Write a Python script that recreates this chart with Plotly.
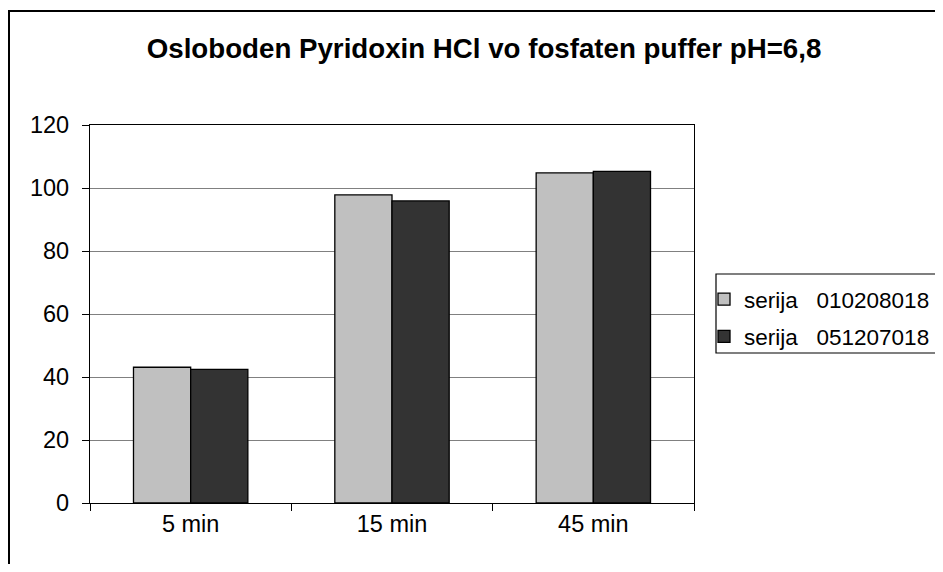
import plotly.graph_objects as go

categories = ["5 min", "15 min", "45 min"]
serija_1 = [43.1, 97.8, 104.8]
serija_2 = [42.4, 95.9, 105.3]
series_names = ["serija\u00a0\u00a0\u00a0010208018", "serija\u00a0\u00a0\u00a0051207018"]
y_ticks = [0, 20, 40, 60, 80, 100, 120]

# page body has an 8px margin; the figure is sized so the page fits the window
OFF = 8
W, H = 943 - 2 * OFF, 572 - 2 * OFF
L, R, T, B = 90 - OFF, 694 - OFF, 125 - OFF, 503 - OFF

def px_x(p):
    return (p - OFF - L) / (R - L)

def px_y(p):
    return (B - (p - OFF)) / (B - T)

fig = go.Figure()
fig.add_trace(go.Bar(x=categories, y=serija_1, name=series_names[0],
                     marker=dict(color="#C0C0C0", line=dict(color="black", width=1.3)),
                     legendgroup="a"))
fig.add_trace(go.Bar(x=categories, y=serija_2, name=series_names[1],
                     marker=dict(color="#333333", line=dict(color="black", width=1.3)),
                     legendgroup="b"))

font_family = "Liberation Sans, Arial, sans-serif"
fs = 23.5

fig.update_layout(
    width=W, height=H,
    margin=dict(l=L, r=W - R, t=T, b=H - B, pad=0, autoexpand=False),
    paper_bgcolor="white", plot_bgcolor="white",
    font=dict(family=font_family, size=fs, color="black"),
    barmode="group", bargap=0.432, bargroupgap=0,
    title=dict(text="<b>Osloboden Pyridoxin HCl vo fosfaten puffer pH=6,8</b>",
               x=(484 - OFF) / W, xanchor="center", xref="container",
               y=1 - (48 - OFF) / H, yanchor="middle", yref="container",
               font=dict(size=27.7, family=font_family, color="black")),
    showlegend=True,
    legend=dict(x=(704 - OFF) / W, xanchor="left", xref="container",
                y=1 - (278 - OFF) / H, yanchor="top", yref="container",
                bgcolor="rgba(0,0,0,0)", borderwidth=0,
                font=dict(size=22.5, family=font_family),
                tracegroupgap=5, itemwidth=30),
    xaxis=dict(type="category", showline=True, linecolor="black", linewidth=1.3,
               mirror=True, ticks="outside", tickson="boundaries", ticklen=7,
               tickcolor="black", showgrid=False, automargin=False,
               tickfont=dict(size=fs, family=font_family)),
    yaxis=dict(range=[0, 120], tickvals=y_ticks, showline=True, linecolor="black",
               linewidth=1.3, mirror=True, ticks="outside", ticklen=7, tickcolor="black",
               showgrid=True, gridcolor="#808080", gridwidth=1, zeroline=False,
               ticklabelstandoff=8, automargin=False,
               tickfont=dict(size=fs, family=font_family)),
    shapes=[
        # outer chart frame
        dict(type="rect", xref="paper", yref="paper",
             x0=px_x(9), x1=px_x(990), y0=px_y(620), y1=px_y(11),
             line=dict(color="black", width=2), fillcolor="rgba(0,0,0,0)", layer="below"),
        # legend box
        dict(type="rect", xref="paper", yref="paper",
             x0=px_x(716), x1=px_x(990), y0=px_y(353), y1=px_y(274),
             line=dict(color="black", width=1.2), fillcolor="rgba(0,0,0,0)"),
    ],
)

fig.write_html("out.html")
